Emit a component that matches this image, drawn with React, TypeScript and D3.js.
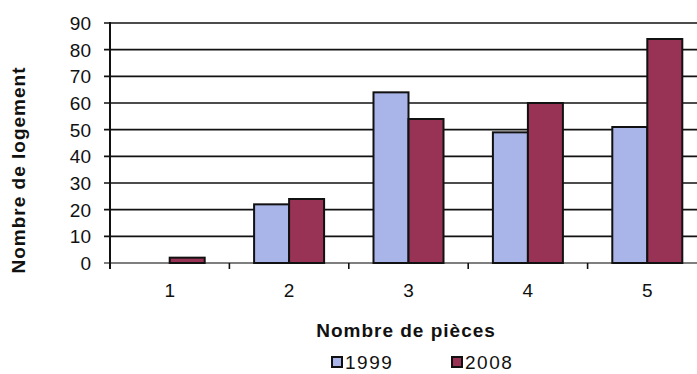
import React from "react";
import * as d3 from "d3";

const categories = ["1", "2", "3", "4", "5"];
const seriesNames = ["1999", "2008"];
const values1999 = [0, 22, 64, 49, 51];
const values2008 = [2, 24, 54, 60, 84];
const yTicks = [0, 10, 20, 30, 40, 50, 60, 70, 80, 90];
const colors = ["#a9b5e8", "#993356"];

export default function App() {
  const W = 697, H = 374;
  const left = 110, right = 707, top = 23, bottom = 263;
  const x = d3.scaleBand<string>().domain(categories).range([left, right]).padding(0);
  const bw = x.bandwidth();
  const xs = d3.scaleBand<string>().domain(seriesNames).range([bw / 2 - 35, bw / 2 + 35]).padding(0);
  const y = d3.scaleLinear().domain([0, 90]).range([bottom, top]);
  const data = [values1999, values2008];
  const font = "Arial, 'Liberation Sans', sans-serif";
  const boundaries = categories.map((c) => x(c)!).concat([right]);

  return (
    <svg width={W} height={H} style={{ position: "absolute", left: 0, top: 0, background: "#fff" }}>
      {yTicks.map((t) => (
        <g key={t}>
          <line x1={left - 6} x2={W} y1={y(t)} y2={y(t)} stroke={t === 0 ? "#555" : "#111"} strokeWidth={1.6} />
          <text x={91} y={y(t)} dy="0.36em" textAnchor="end" fontSize={19} fontFamily={font} fill="#111">{t}</text>
        </g>
      ))}
      {data.map((vals, si) =>
        vals.map((v, i) =>
          v > 0 ? (
            <rect key={si + "-" + i}
              x={x(categories[i])! + xs(seriesNames[si])!}
              y={y(v)}
              width={xs.bandwidth()}
              height={y(0) - y(v)}
              fill={colors[si]} stroke="#111" strokeWidth={2} />
          ) : null
        )
      )}
      <line x1={left} x2={left} y1={top - 1} y2={bottom + 6} stroke="#111" strokeWidth={2} />
      {boundaries.slice(1).map((b, i) => (
        <line key={i} x1={b} x2={b} y1={bottom} y2={bottom + 6} stroke="#111" strokeWidth={1.6} />
      ))}
      {categories.map((c) => (
        <text key={c} x={x(c)! + bw / 2} y={297} textAnchor="middle" fontSize={19} fontFamily={font} fill="#111">{c}</text>
      ))}
      <text x={406} y={337} textAnchor="middle" fontSize={19} fontWeight="bold" letterSpacing={1} fontFamily={font} fill="#111">Nombre de pièces</text>
      <text transform="translate(25,170) rotate(-90)" textAnchor="middle" fontSize={19} fontWeight="bold" letterSpacing={1} fontFamily={font} fill="#111">Nombre de logement</text>
      {seriesNames.map((s, i) => {
        const lx = [332, 452][i];
        return (
          <g key={s}>
            <rect x={lx} y={357} width={10} height={10} fill={colors[i]} stroke="#111" strokeWidth={2} />
            <text x={lx + 13} y={369} fontSize={19} letterSpacing={1.5} fontFamily={font} fill="#111">{s}</text>
          </g>
        );
      })}
    </svg>
  );
}
